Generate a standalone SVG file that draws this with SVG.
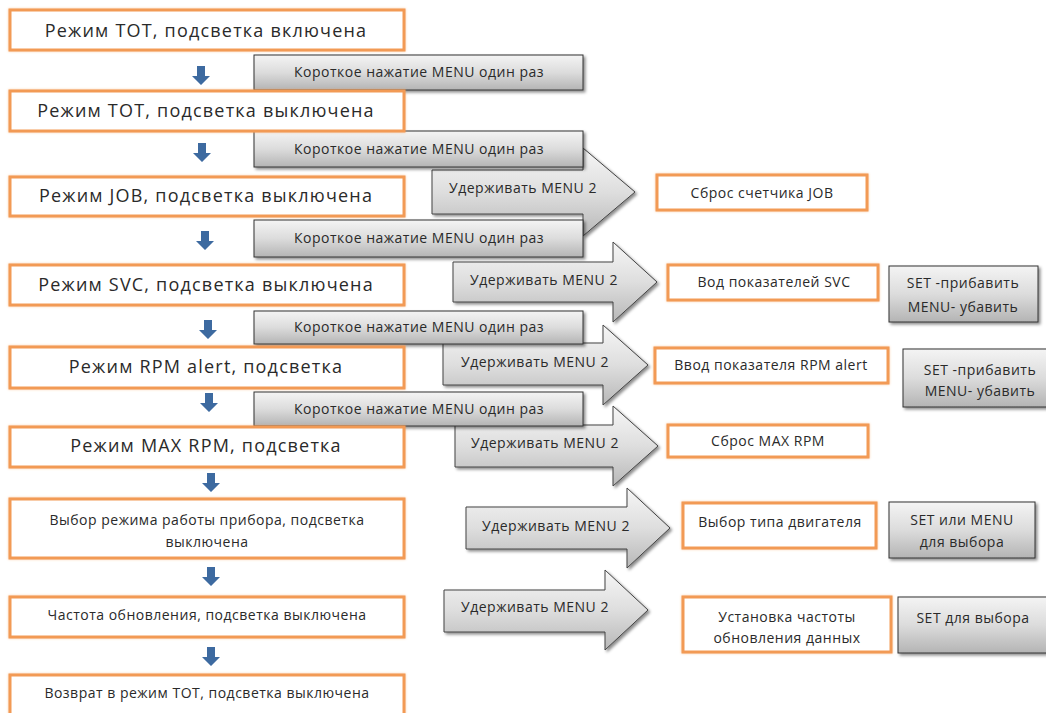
<svg xmlns="http://www.w3.org/2000/svg" width="1046" height="713" viewBox="0 0 1046 713">
<defs>
<linearGradient id="gGray" x1="0" y1="0" x2="0" y2="1">
<stop offset="0" stop-color="#f4f4f4"/>
<stop offset="0.5" stop-color="#dcdcdc"/>
<stop offset="1" stop-color="#b4b4b4"/>
</linearGradient>
<linearGradient id="gArrow" x1="0" y1="0" x2="0" y2="1">
<stop offset="0" stop-color="#f6f6f6"/>
<stop offset="0.5" stop-color="#dedede"/>
<stop offset="1" stop-color="#b8b8b8"/>
</linearGradient>
<filter id="sh" x="-10%" y="-20%" width="130%" height="160%">
<feDropShadow dx="2" dy="2" stdDeviation="1.5" flood-color="#000" flood-opacity="0.45"/>
</filter>
<filter id="glow" x="-5%" y="-20%" width="110%" height="140%">
<feDropShadow dx="0" dy="0" stdDeviation="1.2" flood-color="#f79646" flood-opacity="0.5"/>
</filter>
<path id="down" d="M-4,0 H4 V10 H9 L0,19 L-9,10 H-4 Z" fill="#3d6aa0"/>
</defs>
<style>
.ob{fill:#fff;stroke:#f29a55;stroke-width:3;filter:url(#glow)}
.gb{fill:url(#gGray);stroke:#333;stroke-width:1;filter:url(#sh)}
.ba{fill:url(#gArrow);stroke:#444;stroke-width:1;filter:url(#sh)}
text{font-family:"Open Sans","Liberation Sans",Arial,sans-serif;fill:#2a2a2a;text-anchor:middle}
.t1{font-size:18px;letter-spacing:1.2px}
.t2{font-size:14px;letter-spacing:0.5px}
.t3{font-size:14px;letter-spacing:0.5px}
</style>
<rect width="1046" height="713" fill="#fff"/>

<g id="connectors">
<use href="#down" x="201" y="66"/>
<use href="#down" x="202" y="143"/>
<use href="#down" x="205" y="231"/>
<use href="#down" x="208" y="320"/>
<use href="#down" x="209" y="393"/>
<use href="#down" x="211" y="473"/>
<use href="#down" x="211" y="567"/>
<use href="#down" x="211" y="647"/>
</g>

<g id="hold1"><polygon class="ba" points="432,170 583,170 583,148 635,192 583,236 583,214 432,214"/><text class="t2" x="523" y="193">Удерживать MENU 2</text></g>
<g id="hold2"><polygon class="ba" points="453,262 613,262 613,242 657,282 613,322 613,302 453,302"/><text class="t2" x="544" y="285">Удерживать MENU 2</text></g>
<g id="hold3"><polygon class="ba" points="443,343 603,343 603,325 648,365 603,405 603,385 443,385"/><text class="t2" x="535" y="367">Удерживать MENU 2</text></g>
<g id="hold4"><polygon class="ba" points="455,425 613,425 613,406 658,446 613,486 613,467 455,467"/><text class="t2" x="545" y="448">Удерживать MENU 2</text></g>
<g id="hold5"><polygon class="ba" points="466,507 627,507 627,488 670,528 627,568 627,549 466,549"/><text class="t2" x="556" y="531">Удерживать MENU 2</text></g>
<g id="hold6"><polygon class="ba" points="444,590 605,590 605,570 648,610 605,650 605,632 444,632"/><text class="t2" x="535" y="612">Удерживать MENU 2</text></g>

<g id="press1"><rect class="gb" x="254" y="55" width="329" height="35"/><text class="t2" x="419" y="77">Короткое нажатие MENU один раз</text></g>
<g id="press2"><rect class="gb" x="254" y="131" width="329" height="36"/><text class="t2" x="419" y="154">Короткое нажатие MENU один раз</text></g>
<g id="press3"><rect class="gb" x="254" y="220" width="329" height="37"/><text class="t2" x="419" y="243">Короткое нажатие MENU один раз</text></g>
<g id="press4"><rect class="gb" x="254" y="311" width="329" height="33"/><text class="t2" x="419" y="332">Короткое нажатие MENU один раз</text></g>
<g id="press5"><rect class="gb" x="254" y="392" width="329" height="34"/><text class="t2" x="419" y="414">Короткое нажатие MENU один раз</text></g>

<g id="m1"><rect class="ob" x="10" y="10" width="394" height="40"/><text class="t1" x="206" y="37">Режим ТОТ, подсветка включена</text></g>
<g id="m2"><rect class="ob" x="10" y="91" width="394" height="40"/><text class="t1" x="206" y="117">Режим ТОТ, подсветка выключена</text></g>
<g id="m3"><rect class="ob" x="10" y="177" width="394" height="39"/><text class="t1" x="206" y="202">Режим JOB, подсветка выключена</text></g>
<g id="m4"><rect class="ob" x="10" y="265" width="394" height="40"/><text class="t1" x="206" y="291">Режим SVC, подсветка выключена</text></g>
<g id="m5"><rect class="ob" x="10" y="347" width="394" height="41"/><text class="t1" x="206" y="373">Режим RPM alert, подсветка</text></g>
<g id="m6"><rect class="ob" x="10" y="427" width="394" height="40"/><text class="t1" x="206" y="452">Режим MAX RPM, подсветка</text></g>
<g id="m7"><rect class="ob" x="10" y="499" width="394" height="59"/><text class="t2" x="207" y="525">Выбор режима работы прибора, подсветка</text><text class="t2" x="207" y="547">выключена</text></g>
<g id="m8"><rect class="ob" x="10" y="597" width="394" height="40"/><text class="t2" x="207" y="620">Частота обновления, подсветка выключена</text></g>
<g id="m9"><rect class="ob" x="10" y="675" width="394" height="42"/><text class="t2" x="207" y="698">Возврат в режим ТОТ, подсветка выключена</text></g>

<g id="r1"><rect class="ob" x="657" y="175" width="210" height="35"/><text class="t2" x="762" y="198">Сброс счетчика JOB</text></g>
<g id="r2"><rect class="ob" x="668" y="265" width="210" height="35"/><text class="t2" x="774" y="287">Вод показателей SVC</text></g>
<g id="r3"><rect class="ob" x="655" y="348" width="233" height="35"/><text class="t3" x="771" y="370">Ввод показателя RPM alert</text></g>
<g id="r4"><rect class="ob" x="668" y="425" width="200" height="32"/><text class="t2" x="768" y="446">Сброс MAX RPM</text></g>
<g id="r5"><rect class="ob" x="683" y="503" width="193" height="45"/><text class="t3" x="780" y="527">Выбор типа двигателя</text></g>
<g id="r6"><rect class="ob" x="683" y="597" width="208" height="55"/><text class="t2" x="787" y="622">Установка частоты</text><text class="t2" x="787" y="643">обновления данных</text></g>

<g id="s1"><rect class="gb" x="889" y="266" width="149" height="56"/><text class="t3" x="963" y="288">SET -прибавить</text><text class="t3" x="963" y="312">MENU- убавить</text></g>
<g id="s2"><rect class="gb" x="903" y="349" width="150" height="58"/><text class="t3" x="980" y="375">SET -прибавить</text><text class="t3" x="980" y="396">MENU- убавить</text></g>
<g id="s3"><rect class="gb" x="889" y="502" width="146" height="56"/><text class="t3" x="962" y="525">SET или MENU</text><text class="t3" x="962" y="547">для выбора</text></g>
<g id="s4"><rect class="gb" x="898" y="597" width="155" height="56"/><text class="t3" x="973" y="623">SET для выбора</text></g>
</svg>
